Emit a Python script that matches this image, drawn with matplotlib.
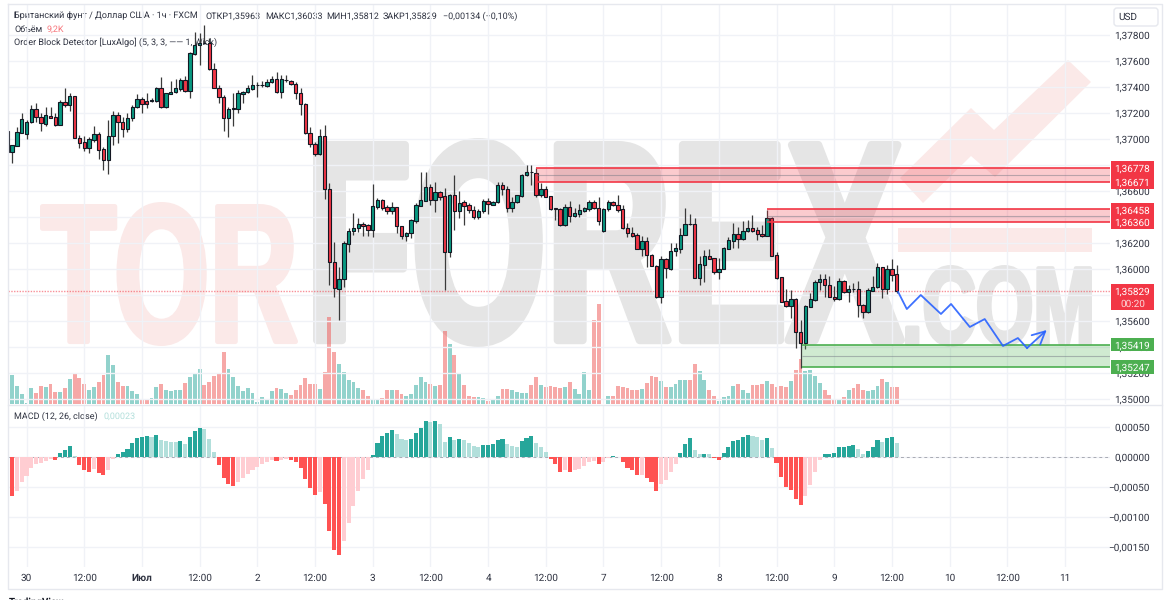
import numpy as np
import matplotlib
matplotlib.use("Agg")
import matplotlib.pyplot as plt
from matplotlib.font_manager import FontProperties
from matplotlib.patches import FancyBboxPatch, Polygon, Rectangle
from matplotlib.patheffects import AbstractPathEffect
from matplotlib.text import Text
from matplotlib.textpath import TextPath
from matplotlib.transforms import Affine2D, Bbox

plt.rcParams["font.family"] = ["Roboto", "DejaVu Sans"]
plt.rcParams["text.hinting"] = "no_hinting"

# hourly bars, index 0 = midnight of the 30th
opens = [
    1.37061, 1.36902, 1.36949, 1.37048, 1.37038, 1.37133, 1.37228, 1.37172, 1.37115, 1.37179,
    1.37166, 1.37107, 1.37282, 1.37261, 1.37333, 1.37010, 1.36974, 1.36928, 1.36992, 1.37036,
    1.36923, 1.36838, 1.37023, 1.37184, 1.37128, 1.37074, 1.37159, 1.37243, 1.37305, 1.37295,
    1.37295, 1.37295, 1.37392, 1.37248, 1.37349, 1.37359, 1.37387, 1.37454, 1.37372, 1.37656,
    1.37720, 1.37741, 1.37736, 1.37536, 1.37395, 1.37320, 1.37161, 1.37233, 1.37233, 1.37346,
    1.37359, 1.37384, 1.37413, 1.37413, 1.37410, 1.37438, 1.37464, 1.37364, 1.37454, 1.37446,
    1.37420, 1.37351, 1.37269, 1.37043, 1.36961, 1.36884, 1.37023, 1.36613, 1.36056, 1.35846,
    1.35920, 1.36192, 1.36292, 1.36318, 1.36346, 1.36336, 1.36297, 1.36479, 1.36531, 1.36474,
    1.36449, 1.36474, 1.36331, 1.36256, 1.36274, 1.36372, 1.36487, 1.36526, 1.36628, 1.36531,
    1.36590, 1.36561, 1.36133, 1.36569, 1.36443, 1.36513, 1.36492, 1.36451, 1.36397, 1.36446,
    1.36523, 1.36495, 1.36515, 1.36646, 1.36618, 1.36472, 1.36513, 1.36564, 1.36720, 1.36746,
    1.36741, 1.36567, 1.36618, 1.36559, 1.36467, 1.36459, 1.36336, 1.36474, 1.36410, 1.36426,
    1.36449, 1.36464, 1.36518, 1.36469, 1.36295, 1.36459, 1.36513, 1.36492, 1.36459, 1.36318,
    1.36274, 1.36259, 1.36156, 1.36215, 1.36110, 1.36025, 1.35787, 1.36077, 1.36002, 1.36141,
    1.36156, 1.36264, 1.36346, 1.36346, 1.35933, 1.36033, 1.36100, 1.36082, 1.35974, 1.36000,
    1.36156, 1.36218, 1.36269, 1.36233, 1.36292, 1.36318, 1.36300, 1.36271, 1.36256, 1.36395,
    1.36105, 1.35936, 1.35751, 1.35718, 1.35766, 1.35512, 1.35428, 1.35710, 1.35764, 1.35900,
    1.35920, 1.35877, 1.35787, 1.35769, 1.35905, 1.35825, 1.35846, 1.35848, 1.35725, 1.35669,
    1.35833, 1.35859, 1.36012, 1.35843, 1.35997, 1.35963,
]
highs = [
    1.37061, 1.36954, 1.37095, 1.37197, 1.37146, 1.37261, 1.37274, 1.37197, 1.37248, 1.37248,
    1.37197, 1.37300, 1.37390, 1.37351, 1.37333, 1.37031, 1.37023, 1.37018, 1.37102, 1.37056,
    1.36941, 1.37146, 1.37218, 1.37210, 1.37172, 1.37197, 1.37261, 1.37346, 1.37325, 1.37356,
    1.37313, 1.37397, 1.37474, 1.37356, 1.37446, 1.37461, 1.37466, 1.37484, 1.37672, 1.37820,
    1.37813, 1.37877, 1.37774, 1.37582, 1.37415, 1.37338, 1.37243, 1.37351, 1.37377, 1.37372,
    1.37415, 1.37490, 1.37441, 1.37446, 1.37459, 1.37484, 1.37513, 1.37492, 1.37492, 1.37454,
    1.37441, 1.37390, 1.37274, 1.37095, 1.36979, 1.37074, 1.37110, 1.36659, 1.36210, 1.36013,
    1.36218, 1.36313, 1.36428, 1.36395, 1.36364, 1.36343, 1.36654, 1.36543, 1.36538, 1.36492,
    1.36518, 1.36479, 1.36331, 1.36287, 1.36382, 1.36505, 1.36743, 1.36743, 1.36654, 1.36667,
    1.36602, 1.36620, 1.36577, 1.36723, 1.36600, 1.36531, 1.36510, 1.36484, 1.36459, 1.36536,
    1.36543, 1.36523, 1.36672, 1.36667, 1.36638, 1.36551, 1.36569, 1.36731, 1.36800, 1.36800,
    1.36774, 1.36659, 1.36638, 1.36564, 1.36467, 1.36467, 1.36500, 1.36523, 1.36467, 1.36497,
    1.36479, 1.36531, 1.36531, 1.36551, 1.36467, 1.36531, 1.36523, 1.36569, 1.36492, 1.36356,
    1.36320, 1.36279, 1.36253, 1.36248, 1.36115, 1.36030, 1.36100, 1.36082, 1.36197, 1.36197,
    1.36312, 1.36466, 1.36423, 1.36389, 1.36100, 1.36146, 1.36151, 1.36087, 1.36082, 1.36166,
    1.36243, 1.36351, 1.36320, 1.36371, 1.36377, 1.36412, 1.36320, 1.36338, 1.36453, 1.36402,
    1.36133, 1.35941, 1.35843, 1.35838, 1.35774, 1.35607, 1.35723, 1.35812, 1.35915, 1.35961,
    1.35959, 1.35946, 1.35869, 1.35928, 1.35915, 1.35877, 1.35895, 1.35910, 1.35730, 1.35851,
    1.35948, 1.36048, 1.36018, 1.36030, 1.36074, 1.36033,
]
lows = [
    1.36902, 1.36813, 1.36949, 1.37043, 1.36997, 1.37120, 1.37133, 1.37064, 1.37100, 1.37159,
    1.37100, 1.37107, 1.37248, 1.37218, 1.37010, 1.36928, 1.36910, 1.36890, 1.36979, 1.36843,
    1.36762, 1.36731, 1.36954, 1.36972, 1.37018, 1.37056, 1.37141, 1.37236, 1.37197, 1.37236,
    1.37287, 1.37287, 1.37236, 1.37236, 1.37343, 1.37351, 1.37372, 1.37364, 1.37313, 1.37646,
    1.37569, 1.37731, 1.37531, 1.37390, 1.37274, 1.37064, 1.37018, 1.37100, 1.37202, 1.37274,
    1.37351, 1.37377, 1.37320, 1.37402, 1.37402, 1.37433, 1.37351, 1.37313, 1.37441, 1.37415,
    1.37310, 1.37184, 1.37038, 1.36936, 1.36869, 1.36877, 1.36536, 1.35877, 1.35787, 1.35608,
    1.35864, 1.36128, 1.36261, 1.36287, 1.36254, 1.36254, 1.36249, 1.36459, 1.36454, 1.36423,
    1.36420, 1.36274, 1.36231, 1.36218, 1.36236, 1.36351, 1.36484, 1.36526, 1.36492, 1.36441,
    1.36531, 1.35838, 1.36095, 1.36300, 1.36390, 1.36338, 1.36428, 1.36382, 1.36382, 1.36428,
    1.36420, 1.36490, 1.36510, 1.36569, 1.36438, 1.36441, 1.36505, 1.36556, 1.36715, 1.36646,
    1.36556, 1.36551, 1.36551, 1.36454, 1.36377, 1.36331, 1.36331, 1.36364, 1.36402, 1.36402,
    1.36441, 1.36449, 1.36461, 1.36338, 1.36287, 1.36449, 1.36484, 1.36441, 1.36305, 1.36243,
    1.36248, 1.36151, 1.36100, 1.36018, 1.36023, 1.35774, 1.35741, 1.35933, 1.35992, 1.36102,
    1.36120, 1.36259, 1.36338, 1.35928, 1.35877, 1.35897, 1.36074, 1.35961, 1.35923, 1.35997,
    1.36154, 1.36159, 1.36164, 1.36223, 1.36287, 1.36287, 1.36223, 1.36248, 1.36253, 1.36100,
    1.35925, 1.35743, 1.35710, 1.35620, 1.35389, 1.35236, 1.35382, 1.35710, 1.35756, 1.35838,
    1.35787, 1.35782, 1.35756, 1.35761, 1.35818, 1.35743, 1.35825, 1.35633, 1.35625, 1.35659,
    1.35828, 1.35853, 1.35774, 1.35807, 1.35910, 1.35812,
]
closes = [
    1.36902, 1.36954, 1.37051, 1.37151, 1.37133, 1.37228, 1.37166, 1.37120, 1.37184, 1.37159,
    1.37107, 1.37282, 1.37261, 1.37333, 1.37010, 1.36972, 1.36928, 1.36997, 1.37036, 1.36915,
    1.36838, 1.37023, 1.37184, 1.37128, 1.37074, 1.37161, 1.37243, 1.37305, 1.37266, 1.37266,
    1.37300, 1.37392, 1.37248, 1.37351, 1.37364, 1.37392, 1.37454, 1.37372, 1.37659, 1.37720,
    1.37738, 1.37736, 1.37536, 1.37395, 1.37320, 1.37161, 1.37230, 1.37236, 1.37351, 1.37359,
    1.37390, 1.37415, 1.37415, 1.37415, 1.37438, 1.37464, 1.37364, 1.37459, 1.37456, 1.37423,
    1.37351, 1.37269, 1.37043, 1.36961, 1.36884, 1.37023, 1.36613, 1.36056, 1.35851, 1.35920,
    1.36197, 1.36295, 1.36318, 1.36346, 1.36333, 1.36297, 1.36484, 1.36531, 1.36472, 1.36449,
    1.36477, 1.36331, 1.36256, 1.36279, 1.36377, 1.36492, 1.36531, 1.36628, 1.36531, 1.36590,
    1.36556, 1.36133, 1.36569, 1.36446, 1.36510, 1.36487, 1.36451, 1.36397, 1.36449, 1.36526,
    1.36497, 1.36515, 1.36646, 1.36615, 1.36472, 1.36518, 1.36567, 1.36723, 1.36746, 1.36744,
    1.36569, 1.36615, 1.36556, 1.36461, 1.36465, 1.36336, 1.36474, 1.36410, 1.36428, 1.36451,
    1.36467, 1.36518, 1.36472, 1.36369, 1.36461, 1.36513, 1.36492, 1.36454, 1.36315, 1.36274,
    1.36256, 1.36156, 1.36215, 1.36110, 1.36025, 1.35787, 1.36077, 1.36005, 1.36141, 1.36159,
    1.36264, 1.36343, 1.36344, 1.35933, 1.36036, 1.36100, 1.36079, 1.35974, 1.36000, 1.36159,
    1.36220, 1.36269, 1.36233, 1.36295, 1.36318, 1.36295, 1.36269, 1.36256, 1.36395, 1.36102,
    1.35930, 1.35748, 1.35718, 1.35766, 1.35512, 1.35428, 1.35715, 1.35769, 1.35902, 1.35920,
    1.35877, 1.35787, 1.35769, 1.35905, 1.35825, 1.35848, 1.35844, 1.35723, 1.35669, 1.35838,
    1.35859, 1.36012, 1.35843, 1.35997, 1.35953, 1.35829,
]
# volume, thousands
volumes = [
    17.8, 15.9, 10.1, 5.5, 0.5, 8.8, 6.0, 10.1, 9.2, 10.8,
    6.8, 6.8, 8.8, 13.7, 16.3, 14.3, 10.8, 7.5, 9.2, 12.1,
    15.7, 26.7, 21.2, 12.1, 10.1, 10.1, 7.0, 5.5, 2.4, 2.9,
    3.3, 9.2, 10.8, 7.5, 7.1, 7.5, 7.9, 11.5, 14.6, 16.7,
    19.2, 10.4, 12.1, 15.2, 16.7, 28.5, 19.2, 14.6, 10.1, 7.0,
    8.8, 6.0, 0.9, 3.7, 2.9, 7.0, 8.8, 8.2, 6.0, 5.1,
    7.5, 10.6, 14.3, 11.0, 11.0, 8.2, 17.6, 47.9, 28.7, 22.1,
    17.6, 13.4, 11.9, 8.6, 7.5, 4.6, 2.4, 2.9, 3.3, 7.9,
    7.9, 7.5, 5.7, 4.2, 5.7, 10.2, 14.8, 12.1, 11.0, 10.1,
    10.4, 40.2, 33.2, 27.1, 16.3, 10.4, 4.6, 3.7, 3.7, 3.3,
    1.8, 2.9, 4.2, 8.2, 8.2, 7.5, 6.8, 5.9, 6.0, 10.4,
    14.6, 10.4, 9.5, 10.1, 9.2, 8.8, 9.5, 12.1, 8.2, 5.7,
    17.6, 7.5, 46.2, 55.0, 0.2, 4.6, 4.6, 10.1, 9.5, 8.8,
    7.5, 7.5, 8.2, 11.7, 15.6, 14.6, 12.4, 9.5, 9.5, 11.0,
    13.0, 13.4, 13.4, 22.1, 17.9, 13.4, 7.9, 4.6, 1.6, 3.7,
    4.2, 10.1, 11.2, 7.9, 5.9, 10.4, 10.4, 11.2, 12.4, 11.2,
    9.2, 10.1, 9.2, 12.4, 18.5, 24.7, 17.9, 18.5, 15.6, 11.7,
    7.5, 4.9, 2.4, 2.0, 3.7, 7.9, 8.8, 11.0, 7.9, 7.1,
    7.5, 10.1, 13.7, 12.1, 9.5, 9.2,
]
macd_hist = [
    -0.00063, -0.00064, -0.00056, -0.00041, -0.00031, -0.00018, -0.00011, -0.00010, -0.00006, -0.00003,
    -0.00004, 0.00007, 0.00012, 0.00019, 0.00002, -0.00013, -0.00022, -0.00024, -0.00020, -0.00026,
    -0.00030, -0.00021, -0.00003, 0.00006, 0.00008, 0.00014, 0.00023, 0.00032, 0.00034, 0.00035,
    0.00033, 0.00037, 0.00028, 0.00027, 0.00026, 0.00025, 0.00027, 0.00022, 0.00034, 0.00043,
    0.00048, 0.00047, 0.00030, 0.00008, -0.00013, -0.00035, -0.00044, -0.00048, -0.00042, -0.00035,
    -0.00028, -0.00022, -0.00016, -0.00012, -0.00008, -0.00004, -0.00007, -0.00004, -0.00003, -0.00004,
    -0.00008, -0.00018, -0.00036, -0.00052, -0.00063, -0.00058, -0.00078, -0.00122, -0.00155, -0.00163,
    -0.00139, -0.00110, -0.00082, -0.00057, -0.00036, -0.00021, 0.00004, 0.00024, 0.00036, 0.00041,
    0.00046, 0.00038, 0.00031, 0.00028, 0.00031, 0.00041, 0.00049, 0.00060, 0.00059, 0.00060,
    0.00056, 0.00026, 0.00033, 0.00029, 0.00031, 0.00029, 0.00024, 0.00018, 0.00017, 0.00021,
    0.00021, 0.00022, 0.00028, 0.00031, 0.00022, 0.00018, 0.00017, 0.00027, 0.00032, 0.00035,
    0.00023, 0.00017, 0.00009, -0.00003, -0.00012, -0.00024, -0.00022, -0.00024, -0.00022, -0.00019,
    -0.00015, -0.00008, -0.00007, -0.00011, -0.00008, -0.00002, 0.00002, 0.00001, -0.00008, -0.00018,
    -0.00021, -0.00030, -0.00029, -0.00034, -0.00041, -0.00056, -0.00044, -0.00038, -0.00024, -0.00011,
    0.00007, 0.00022, 0.00032, 0.00012, 0.00005, 0.00006, 0.00005, -0.00002, -0.00004, 0.00007,
    0.00017, 0.00027, 0.00029, 0.00034, 0.00037, 0.00036, 0.00033, 0.00028, 0.00032, 0.00016,
    -0.00009, -0.00033, -0.00049, -0.00054, -0.00069, -0.00080, -0.00064, -0.00047, -0.00024, -0.00005,
    0.00006, 0.00006, 0.00007, 0.00017, 0.00017, 0.00019, 0.00021, 0.00013, 0.00006, 0.00011,
    0.00017, 0.00029, 0.00026, 0.00032, 0.00033, 0.00023,
]
bar_index = np.arange(-4, 182)

# order blocks: first bar, top, bottom
block_starts = [106, 154, 161.3]
block_tops = [1.36778, 1.36458, 1.35419]
block_bottoms = [1.36671, 1.36360, 1.35247]

# hand-drawn forecast
path_bars = [181.3, 183.1, 186, 190.2, 192.3, 196.2, 199.3, 203.1, 206.2, 208.1, 212.2]
path_prices = [1.35823, 1.35692, 1.358, 1.35654, 1.35731, 1.35554, 1.35615, 1.35408, 1.35469, 1.35392, 1.35531]

price_ticks = [1.378, 1.376, 1.374, 1.372, 1.370, 1.368, 1.366, 1.364, 1.362, 1.360, 1.358, 1.356, 1.354, 1.352, 1.350]
macd_ticks = [0.0005, 0.0, -0.0005, -0.001, -0.0015]
macd_tick_labels = ["0,00050", "0,00000", "−0,00050", "−0,00100", "−0,00150"]
time_ticks = list(range(0, 217, 12))
time_labels = ["30", "12:00", "Июл", "12:00", "2", "12:00", "3", "12:00", "4", "12:00",
               "7", "12:00", "8", "12:00", "9", "12:00", "10", "12:00", "11"]

W, H = 1170, 600
DPI = 100
UP = "#089981"
DOWN = "#f23645"
GRID = "#f0f2f7"
INK = "#131722"
LABEL = "#2e3240"
WM_GRAY = "#e5e5e5"
WM_PINK = "#fbe9e8"
TICK_SIZE = 7.2


def pane(left, top, right, bottom, z):
    a = fig.add_axes([left / W, 1 - bottom / H, (right - left) / W, (bottom - top) / H], zorder=z)
    a.patch.set_visible(False)
    for s in a.spines.values():
        s.set_visible(False)
    return a


class Squeeze(AbstractPathEffect):
    # condensed look for the watermark letters, text stays text
    def __init__(self, sx, stroke):
        super().__init__()
        self.sx = sx
        self.stroke = stroke

    def draw_path(self, renderer, gc, tpath, affine, rgbFace=None):
        gc0 = renderer.new_gc()
        gc0.copy_properties(gc)
        gc0.set_linewidth(self.stroke * 72 / DPI)
        gc0.set_foreground(rgbFace, isRGBA=True)
        renderer.draw_path(gc0, tpath, Affine2D().scale(self.sx, 1) + affine, rgbFace)
        gc0.restore()


class SqueezedText(Text):
    # reports the width it is really drawn at
    sx = 1.0

    def get_window_extent(self, renderer=None, dpi=None):
        bb = super().get_window_extent(renderer, dpi)
        return Bbox.from_extents(bb.x0, bb.y0, bb.x0 + bb.width * self.sx, bb.y1)


def watermark(s, left, right, top, bottom, color, stroke):
    fp = FontProperties(family=["Liberation Sans Narrow", "Liberation Sans"], weight="bold")
    ext = TextPath((0, 0), s, size=100, prop=fp).get_extents()
    size = (bottom - top - stroke) / ext.height * 100 * 72 / DPI
    k = size / 100 * DPI / 72
    sx = (right - left - stroke) / (ext.width * k)
    t = SqueezedText(left + stroke / 2 - ext.x0 * k * sx, bottom - stroke / 2 + ext.y0 * k, s,
                     fontproperties=fp, color=color, ha="left", va="baseline", zorder=1)
    t.set_fontsize(size)
    t.set_path_effects([Squeeze(sx, stroke)])
    t.sx = sx
    bg.add_artist(t)


fig = plt.figure(figsize=(W / DPI, H / DPI), dpi=DPI, facecolor="white")

# background layer in pixels: watermark and legends
bg = pane(0, 0, W, H, 0)
bg.set_xlim(0, W)
bg.set_ylim(H, 0)
bg.axis("off")
watermark("TOR", 40, 298, 202, 346, WM_PINK, 5)
watermark("FOREX", 313, 905, 138, 347, WM_GRAY, 8)
watermark(".COM", 905, 1092, 265, 347, WM_GRAY, 4)
bg.add_patch(Polygon([(900, 178), (971, 108), (994, 130), (1068, 60), (1091, 82),
                      (995, 177), (971, 156), (923, 203)], fc=WM_PINK, ec="none", zorder=1))
bg.add_patch(Rectangle((898, 228), 194, 24, fc=WM_PINK, ec="none", zorder=1))

legend_kw = dict(fontsize=6.5, color=LABEL, va="center", ha="left", zorder=3)
bg.text(14, 16, "Британский фунт / Доллар США · 1ч · FXCM", **legend_kw)
bg.text(205, 16, "ОТКР1,35963", **legend_kw)
bg.text(265, 16, "МАКС1,36033", **legend_kw)
bg.text(326, 16, "МИН1,35812", **legend_kw)
bg.text(383, 16, "ЗАКР1,35829", **legend_kw)
bg.text(443, 16, "−0,00134 (−0,10%)", **legend_kw)
bg.text(14, 29, "Объём", **legend_kw)
bg.text(47, 29, "9,2K", fontsize=6.5, color="#f7757b", va="center", ha="left", zorder=3)
bg.text(14, 42, "Order Block Detector [LuxAlgo] (5, 3, 3, —— 1, Wick)", **legend_kw)
bg.text(14, 416, "MACD (12, 26, close)", **legend_kw)
bg.text(104, 416, "0,00023", fontsize=6.5, color="#b2dfdb", va="center", ha="left", zorder=3)

# volume under the candles
closes_a = np.array(closes)
opens_a = np.array(opens)
rising = closes_a >= opens_a

xlim = (-3.85, 225.36)
ax_vol = pane(8, 4, 1110, 404, 1)
ax_vol.set_xlim(xlim)
ax_vol.set_ylim(0, 220)
ax_vol.axis("off")
ax_vol.bar(bar_index, volumes, width=0.8, color=["#26a69a" if r else "#ef5350" for r in rising], alpha=0.5)

# price pane
ax = pane(8, 4, 1110, 404, 2)
ax.set_xlim(xlim)
ax.set_ylim(1.378 - 369 / 13000, 1.378 + 31 / 13000)
ax.set_xticks(time_ticks)
ax.set_yticks(price_ticks)
ax.set_yticklabels([f"{p:.5f}".replace(".", ",") for p in price_ticks])
ax.yaxis.tick_right()
ax.tick_params(length=0, labelbottom=False, labelsize=TICK_SIZE, labelcolor=LABEL, pad=28.8)
plt.setp(ax.get_yticklabels(), ha="right")
ax.grid(True, color=GRID, lw=1)
ax.set_axisbelow(True)

ax.vlines(bar_index, lows, highs, color="#3a3a3a", lw=0.9, zorder=3)
ax.bar(bar_index, np.abs(closes_a - opens_a), bottom=np.minimum(opens_a, closes_a), width=0.7,
       color=[UP if r else DOWN for r in rising], edgecolor="#131722", linewidth=0.8, zorder=4)

# order blocks
for i, (start, top, bottom) in enumerate(zip(block_starts, block_tops, block_bottoms)):
    c = "#4caf50" if i == 2 else "#f23645"
    ax.add_patch(Rectangle((start, bottom), xlim[1] - start, top - bottom, fc=c, alpha=0.26, ec="none", zorder=5))
    ax.hlines([top, bottom], start, xlim[1], color=c, lw=1.2, zorder=5)
    ax.hlines((top + bottom) / 2, start, xlim[1], color="#787b86", lw=0.8, alpha=0.5, zorder=5)

ax.axhline(closes[-1], color="#f23645", lw=1.0, alpha=0.55, ls=(0, (1, 1)), zorder=2)

ax.plot(path_bars[:-1], path_prices[:-1], color="#2962ff", lw=1.3, alpha=0.9, zorder=6)
ax.annotate("", xy=(path_bars[-1], path_prices[-1]), xytext=(path_bars[-2], path_prices[-2]),
            arrowprops=dict(arrowstyle="->,head_length=0.7,head_width=0.35", color="#2962ff", lw=1.3,
                            alpha=0.9, shrinkA=0, shrinkB=0, mutation_scale=13), zorder=6)


def price_tag(price, label, color, text_color="white", half=0.00052):
    tr = ax.get_yaxis_transform()
    ax.add_patch(Rectangle((1 + 1 / 1102, price - half), 43 / 1102, 2 * half, transform=tr, fc=color,
                           ec="none", clip_on=False, zorder=20))
    ax.text(1 + 22.5 / 1102, price, label, transform=tr, color=text_color, fontsize=TICK_SIZE, ha="center",
            va="center_baseline", clip_on=False, zorder=21)


for p in block_tops[:2] + block_bottoms[:2]:
    price_tag(p, f"{p:.5f}".replace(".", ","), DOWN)
for p in block_tops[2:] + block_bottoms[2:]:
    price_tag(p, f"{p:.5f}".replace(".", ","), "#4caf50")
price_tag(closes[-1], f"{closes[-1]:.5f}".replace(".", ","), DOWN)
price_tag(closes[-1] - 0.00092, "00:20", DOWN, text_color="#fcd5d8")

# macd pane
ax_m = pane(8, 405, 1110, 567, 2)
ax_m.set_xlim(xlim)
ax_m.set_ylim(-109.7 / 30 * 0.0005, 52.3 / 30 * 0.0005)
ax_m.set_xticks(time_ticks)
ax_m.set_xticklabels(time_labels)
ax_m.get_xticklabels()[2].set_fontweight("bold")
ax_m.set_yticks(macd_ticks)
ax_m.set_yticklabels(macd_tick_labels)
ax_m.yaxis.tick_right()
ax_m.tick_params(length=0, labelsize=TICK_SIZE, labelcolor=LABEL)
ax_m.tick_params(axis="y", pad=28.8)
ax_m.tick_params(axis="x", pad=4.5)
plt.setp(ax_m.get_yticklabels(), ha="right")
ax_m.grid(True, color=GRID, lw=1)
ax_m.set_axisbelow(True)

hist_colors = []
prev = macd_hist[0]
for h in macd_hist:
    if h >= 0:
        hist_colors.append("#26a69a" if h >= prev else "#b2dfdb")
    else:
        hist_colors.append("#ffcdd2" if h >= prev else "#ff5252")
    prev = h
ax_m.bar(bar_index, macd_hist, width=0.85, color=hist_colors, zorder=3)
ax_m.axhline(0, color="#787b86", lw=0.7, ls=(0, (3, 3)), alpha=0.6, zorder=2)

# frame and the rest, on top
fg = pane(0, 0, W, H, 10)
fg.set_xlim(0, W)
fg.set_ylim(H, 0)
fg.axis("off")
fg.plot([8, 1162, 1162, 8, 8], [4, 4, 589, 589, 4], color="#e6e8ee", lw=1)
fg.plot([8, 1162], [405, 405], color="#e6e8ee", lw=1)
fg.add_patch(FancyBboxPatch((1114, 8), 44, 18, boxstyle="round,pad=0,rounding_size=3", fc="white",
                            ec="#e6e8ee", lw=1))
fg.text(1128, 17, "USD", fontsize=TICK_SIZE, color=LABEL, ha="center", va="center")
fg.text(9, 602, "TradingView", fontsize=7, fontweight="bold", color=INK, ha="left", va="center")

fig.savefig("out.png", dpi=DPI)
